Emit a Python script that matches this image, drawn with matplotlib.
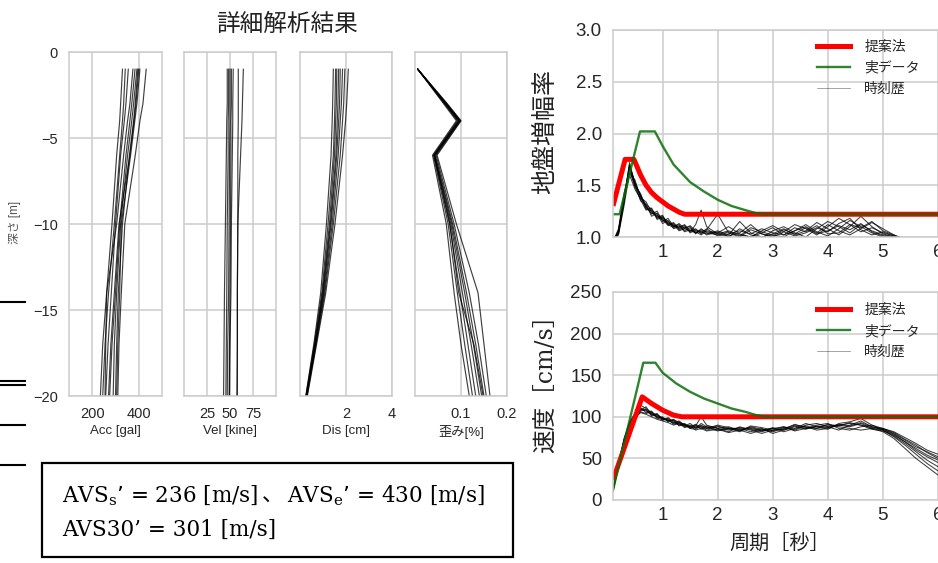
import matplotlib
matplotlib.use("agg")
import matplotlib.pyplot as plt
from matplotlib.patches import Rectangle
from matplotlib.lines import Line2D

plt.rcParams["font.family"] = ["Liberation Sans", "Noto Sans CJK JP"]

W, H = 938, 563

# ---- depth profiles (detailed analysis) ----
depth = [-1, -3, -4, -6, -10, -14, -17, -20]

acc_profiles = [
    [330, 322, 318, 305, 285, 262, 245, 235],
    [342, 335, 330, 318, 295, 270, 255, 245],
    [355, 345, 338, 322, 300, 282, 268, 258],
    [375, 362, 352, 335, 305, 262, 258, 255],
    [384, 370, 362, 345, 318, 300, 285, 275],
    [392, 378, 370, 352, 322, 305, 295, 290],
    [396, 385, 378, 360, 330, 312, 305, 300],
    [405, 392, 383, 365, 325, 318, 310, 305],
    [400, 388, 380, 362, 315, 295, 280, 270],
    [432, 418, 405, 385, 340, 325, 315, 310],
]
vel_profiles = [
    [47, 47, 46.5, 46, 45, 44, 43.5, 43],
    [48.5, 48.5, 48, 48, 47, 46.5, 46, 45.5],
    [50, 50, 50, 49.5, 49, 48.5, 47.5, 47],
    [51.5, 51.5, 51, 51, 50.5, 50, 49.5, 49],
    [53.5, 53, 53, 52.5, 51.5, 51, 50, 49.5],
    [59, 59, 59, 58.5, 58.5, 58, 58, 58],
    [64.5, 63.5, 63, 61.5, 58.5, 58, 58, 57.5],
]
dis_profiles = [
    [1.45, 1.42, 1.40, 1.35, 1.15, 0.90, 0.60, 0.25],
    [1.55, 1.52, 1.50, 1.45, 1.22, 0.95, 0.62, 0.26],
    [1.60, 1.58, 1.55, 1.50, 1.28, 0.98, 0.64, 0.27],
    [1.68, 1.65, 1.62, 1.56, 1.32, 1.00, 0.66, 0.28],
    [1.75, 1.72, 1.68, 1.60, 1.35, 1.02, 0.67, 0.28],
    [1.85, 1.80, 1.75, 1.66, 1.40, 1.05, 0.68, 0.30],
    [1.95, 1.90, 1.85, 1.75, 1.45, 1.08, 0.70, 0.30],
    [2.10, 2.03, 1.98, 1.85, 1.52, 1.12, 0.72, 0.32],
]
strain_profiles = [
    [0.006, 0.062, 0.090, 0.038, 0.068, 0.085, 0.100, 0.118],
    [0.006, 0.064, 0.092, 0.040, 0.072, 0.092, 0.108, 0.125],
    [0.006, 0.065, 0.094, 0.041, 0.075, 0.098, 0.115, 0.132],
    [0.006, 0.066, 0.095, 0.042, 0.078, 0.103, 0.122, 0.140],
    [0.006, 0.067, 0.097, 0.043, 0.080, 0.108, 0.127, 0.145],
    [0.006, 0.068, 0.098, 0.044, 0.082, 0.112, 0.132, 0.150],
    [0.006, 0.069, 0.099, 0.046, 0.085, 0.118, 0.138, 0.155],
    [0.006, 0.070, 0.100, 0.048, 0.090, 0.137, 0.150, 0.163],
    [0.006, 0.066, 0.096, 0.042, 0.076, 0.095, 0.128, 0.148],
]

panel_xlabels = ["Acc [gal]", "Vel [kine]", "Dis [cm]", "歪み[%]"]
panel_xlims = [(100, 500), (0, 100), (0, 4), (0, 0.2)]
panel_xticks = [[200, 400], [25, 50, 75], [2, 4], [0.1, 0.2]]
panel_ticklabels = [["200", "400"], ["25", "50", "75"], ["2", "4"], ["0.1", "0.2"]]

# ---- spectra ----
period = [0.1, 0.2, 0.3, 0.4, 0.5, 0.6, 0.7, 0.8, 0.9, 1.0, 1.1, 1.2, 1.3,
          1.4, 1.5, 1.6, 1.7, 1.8, 2.0, 2.2, 2.4, 2.6, 2.8, 3.0, 3.2, 3.4,
          3.6, 3.8, 4.0, 4.2, 4.4, 4.6, 4.8, 5.0, 5.2, 5.4, 5.6, 5.8, 6.0]

amp_history = [
    [0.95, 1.05, 1.38, 1.70, 1.52, 1.40, 1.30, 1.22, 1.25, 1.15, 1.18, 1.10, 1.12,
     1.06, 1.09, 1.04, 1.06, 1.02, 1.05, 1.00, 1.08, 1.02, 0.99, 1.06, 1.10, 1.04,
     1.00, 1.08, 1.15, 1.10, 1.04, 1.12, 1.06, 1.02, 1.00, 0.97, 0.96, 0.95, 0.95],
    [0.95, 1.08, 1.42, 1.66, 1.48, 1.36, 1.26, 1.28, 1.18, 1.20, 1.12, 1.14, 1.08,
     1.10, 1.05, 1.12, 1.26, 1.10, 1.03, 1.06, 1.02, 1.00, 1.04, 1.09, 1.02, 1.06,
     1.12, 1.05, 1.01, 1.08, 1.16, 1.10, 1.04, 1.00, 0.98, 0.96, 0.95, 0.95, 0.95],
    [0.96, 1.02, 1.30, 1.62, 1.55, 1.38, 1.34, 1.24, 1.20, 1.16, 1.14, 1.10, 1.13,
     1.08, 1.06, 1.08, 1.03, 1.07, 1.22, 1.04, 1.00, 1.07, 1.03, 1.00, 1.05, 1.12,
     1.08, 1.02, 1.10, 1.18, 1.12, 1.05, 1.09, 1.04, 1.01, 0.97, 0.95, 0.95, 0.95],
    [0.95, 1.04, 1.35, 1.72, 1.50, 1.42, 1.28, 1.26, 1.22, 1.13, 1.16, 1.08, 1.10,
     1.11, 1.04, 1.07, 1.05, 1.03, 1.06, 1.02, 1.15, 1.04, 1.00, 1.03, 1.08, 1.02,
     1.06, 1.14, 1.08, 1.02, 1.10, 1.20, 1.10, 1.03, 1.00, 0.96, 0.95, 0.95, 0.95],
    [0.95, 1.06, 1.40, 1.60, 1.46, 1.37, 1.32, 1.20, 1.23, 1.17, 1.11, 1.13, 1.07,
     1.09, 1.10, 1.03, 1.08, 1.04, 1.02, 1.05, 1.01, 1.09, 1.05, 1.02, 1.00, 1.06,
     1.10, 1.04, 1.12, 1.06, 1.02, 1.08, 1.14, 1.08, 1.02, 0.98, 0.95, 0.95, 0.95],
    [0.96, 1.03, 1.33, 1.68, 1.53, 1.39, 1.27, 1.25, 1.19, 1.21, 1.12, 1.09, 1.11,
     1.05, 1.07, 1.05, 1.02, 1.06, 1.04, 1.10, 1.03, 1.00, 1.06, 1.11, 1.05, 1.01,
     1.04, 1.09, 1.05, 1.13, 1.18, 1.07, 1.02, 1.05, 1.01, 0.97, 0.95, 0.95, 0.95],
    [0.95, 1.07, 1.36, 1.64, 1.49, 1.41, 1.29, 1.23, 1.21, 1.18, 1.13, 1.11, 1.09,
     1.12, 1.06, 1.04, 1.07, 1.05, 1.03, 1.01, 1.04, 1.12, 1.03, 1.01, 1.07, 1.03,
     1.09, 1.03, 1.06, 1.11, 1.07, 1.13, 1.05, 1.01, 0.99, 0.96, 0.95, 0.95, 0.95],
    [0.96, 1.04, 1.37, 1.69, 1.51, 1.35, 1.31, 1.27, 1.17, 1.19, 1.15, 1.12, 1.06,
     1.08, 1.11, 1.06, 1.04, 1.08, 1.01, 1.03, 1.06, 1.03, 1.08, 1.04, 1.02, 1.09,
     1.05, 1.11, 1.03, 1.04, 1.12, 1.09, 1.15, 1.06, 1.02, 0.97, 0.95, 0.95, 0.95],
]
vel_history = [
    [12, 45, 72, 92, 102, 110, 108, 104, 100, 98, 96, 92, 94, 88, 90, 86, 92, 88, 84,
     86, 82, 88, 85, 82, 86, 90, 88, 84, 86, 90, 88, 92, 86, 84, 78, 70, 60, 52, 45],
    [14, 42, 70, 90, 100, 108, 112, 102, 104, 96, 99, 94, 90, 92, 86, 89, 100, 90, 86,
     82, 88, 84, 80, 84, 88, 85, 90, 92, 88, 84, 90, 95, 88, 85, 80, 72, 64, 58, 52],
    [10, 40, 68, 88, 98, 106, 104, 106, 98, 100, 94, 96, 91, 89, 92, 87, 88, 84, 88,
     84, 86, 82, 86, 80, 84, 88, 86, 90, 92, 86, 84, 88, 90, 84, 76, 66, 55, 44, 35],
    [13, 44, 74, 94, 104, 114, 110, 105, 102, 97, 98, 93, 95, 90, 88, 90, 85, 89, 86,
     88, 84, 86, 83, 87, 82, 86, 92, 88, 85, 92, 94, 98, 90, 86, 82, 75, 68, 60, 55],
    [11, 41, 69, 89, 99, 105, 103, 100, 97, 95, 93, 90, 92, 87, 89, 84, 86, 83, 85,
     81, 84, 80, 84, 86, 88, 83, 86, 88, 90, 88, 86, 84, 86, 82, 74, 62, 50, 40, 30],
    [12, 43, 71, 91, 101, 109, 107, 103, 101, 99, 95, 97, 93, 91, 87, 88, 90, 86, 90,
     87, 83, 89, 87, 84, 85, 91, 87, 86, 88, 90, 92, 90, 87, 85, 79, 70, 62, 54, 48],
    [13, 43, 70, 90, 101, 107, 109, 101, 103, 98, 95, 96, 89, 91, 88, 91, 87, 86, 89,
     85, 87, 85, 82, 86, 84, 89, 85, 89, 87, 91, 89, 93, 88, 86, 81, 73, 66, 57, 50],
    [11, 42, 72, 93, 103, 111, 105, 107, 99, 96, 97, 91, 93, 90, 86, 85, 89, 87, 83,
     86, 85, 87, 84, 83, 87, 84, 89, 86, 91, 89, 93, 90, 85, 83, 77, 68, 58, 48, 40],
]

amp_prop_t = [0.1, 0.32, 0.48, 0.6, 0.7, 0.8, 0.9, 1.0, 1.1, 1.2, 1.3, 1.4, 6.2]
amp_prop = [1.30, 1.75, 1.75, 1.60, 1.50, 1.43, 1.38, 1.34, 1.30, 1.27, 1.24, 1.22, 1.22]
amp_obs_t = [0.1, 0.22, 0.59, 0.86, 1.0, 1.2, 1.5, 1.75, 2.0, 2.25, 2.5, 2.7, 2.88, 6.2]
amp_obs = [1.22, 1.22, 2.02, 2.02, 1.88, 1.70, 1.53, 1.44, 1.36, 1.30, 1.26, 1.23, 1.22, 1.22]

vel_prop_t = [0.1, 0.63, 0.8, 1.0, 1.2, 1.35, 6.2]
vel_prop = [24, 124, 116, 108, 102, 100, 100]
vel_obs_t = [0.1, 0.65, 0.87, 1.0, 1.25, 1.5, 1.75, 2.0, 2.25, 2.5, 2.7, 2.88, 6.2]
vel_obs = [12, 165, 165, 153, 140, 130, 122, 116, 110, 106, 102, 100, 100]

GRID = "#cccccc"
TXT = "#262626"


def box(x0, y0, x1, y1):
    """pixel box (top-left origin) -> figure fraction rect"""
    return [x0 / W, 1 - y1 / H, (x1 - x0) / W, (y1 - y0) / H]


def style(ax, size):
    ax.grid(True, color=GRID, lw=1.1)
    ax.set_axisbelow(True)
    for s in ax.spines.values():
        s.set_color(GRID)
        s.set_linewidth(1.1)
    ax.tick_params(length=0, colors=TXT, labelsize=size)


fig = plt.figure(figsize=(W / 100, H / 100), dpi=100)

# left: depth profiles
panel_x = [(69, 162), (184, 276), (300, 392), (415, 507)]
profiles = [acc_profiles, vel_profiles, dis_profiles, strain_profiles]
for i, (x0, x1) in enumerate(panel_x):
    ax = fig.add_axes(box(x0, 52, x1, 396))
    style(ax, 10.5)
    for prof in profiles[i]:
        ax.plot(prof, depth, color="black", lw=0.85, alpha=0.75)
    ax.set_xlim(panel_xlims[i])
    ax.set_ylim(-20, 0)
    ax.set_xticks(panel_xticks[i])
    ax.set_xticklabels(panel_ticklabels[i])
    ax.set_yticks([0, -5, -10, -15, -20])
    ax.tick_params(axis="x", pad=8)
    ax.tick_params(axis="y", pad=8)
    if i > 0:
        ax.set_yticklabels([])
    ax.set_xlabel(panel_xlabels[i], fontsize=9.5, color=TXT, labelpad=3)

fig.text(15 / W, 1 - 222 / H, "深さ [m]", rotation=90, fontsize=8.5, color="#555555",
         ha="center", va="center")
fig.text(287 / W, 1 - 25 / H, "詳細解析結果", fontsize=17, color="#222222",
         ha="center", va="center")

# right: spectra
x_right = 6.0 + 7 / 55
ax1 = fig.add_axes(box(613, 30, 945, 237))
ax2 = fig.add_axes(box(613, 292, 945, 500))
panels = [
    (ax1, amp_history, amp_prop_t, amp_prop, amp_obs_t, amp_obs, (1.0, 3.0),
     [1.0, 1.5, 2.0, 2.5, 3.0], ["1.0", "1.5", "2.0", "2.5", "3.0"], 0.952),
    (ax2, vel_history, vel_prop_t, vel_prop, vel_obs_t, vel_obs, (0, 250),
     [0, 50, 100, 150, 200, 250], ["0", "50", "100", "150", "200", "250"], 0.947),
]
for ax, hist, pt, pv, ot, ov, ylim, yt, ytl, leg_y in panels:
    style(ax, 13.5)
    for h in hist:
        ax.plot(period, h, color="black", lw=0.75, alpha=0.75)
    red, = ax.plot(pt, pv, color="#ff0000", lw=3.6, solid_capstyle="butt")
    grn, = ax.plot(ot, ov, color="#0a6e0a", lw=1.7, alpha=0.85)
    ax.set_xlim(0.1, x_right)
    ax.set_ylim(ylim)
    ax.set_xticks([1, 2, 3, 4, 5, 6])
    ax.set_yticks(yt)
    ax.set_yticklabels(ytl)
    ax.tick_params(axis="x", pad=5)
    ax.tick_params(axis="y", pad=8)
    leg_h = [Line2D([], [], color="#ff0000", lw=3.6),
             Line2D([], [], color="#0a6e0a", lw=1.7, alpha=0.85),
             Line2D([], [], color="black", lw=0.5, alpha=0.5)]
    ax.legend(leg_h, ["提案法", "実データ", "時刻歴"], loc="upper left",
              bbox_to_anchor=((817 - 613) / 332, leg_y),
              frameon=False, fontsize=10, handlelength=2.4, handletextpad=1.0,
              labelspacing=0.5, borderaxespad=0, borderpad=0, labelcolor=TXT)

fig.text(545 / W, 1 - 131 / H, "地盤増幅率", rotation=90, fontsize=18,
         color="#222222", ha="center", va="center")
fig.text(545 / W, 1 - 378 / H, "速度［cm/s］", rotation=90, fontsize=17,
         family=["DejaVu Serif", "Noto Sans CJK JP"], color="#222222",
         ha="center", va="center")
fig.text(780 / W, 1 - 543 / H, "周期［秒］", fontsize=14.5, color="#222222",
         ha="center", va="center")

# text box
fig.add_artist(Rectangle((42 / W, 1 - 557 / H), (513 - 42) / W, (557 - 463) / H,
                         transform=fig.transFigure, fill=False, ec="black", lw=1.6))
serif = dict(family="DejaVu Serif", fontsize=15.5, color="black", va="baseline")
fig.text(62 / W, 1 - 502 / H, r"AVS$_\mathregular{s}$’ = 236 [m/s]", **serif)
fig.text(262 / W, 1 - 502 / H, "、", family="Noto Sans CJK JP", fontsize=15.5,
         va="baseline")
fig.text(287 / W, 1 - 502 / H, r"AVS$_\mathregular{e}$’ = 430 [m/s]", **serif)
fig.text(62 / W, 1 - 536 / H, "AVS30’ = 301 [m/s]", **serif)

# stray table rules at the left edge of the page
for yy in [302, 381, 385, 425, 465]:
    fig.add_artist(Line2D([0, 25 / W], [1 - yy / H, 1 - yy / H],
                          transform=fig.transFigure, color="black", lw=1.5))

fig.savefig("out.png", dpi=100)
